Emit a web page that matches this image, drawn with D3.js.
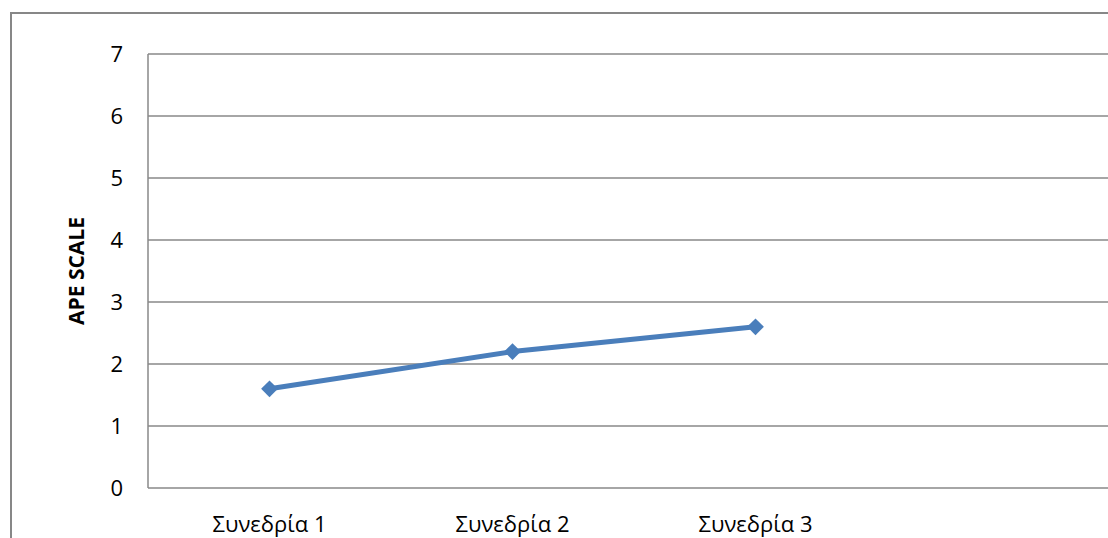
<!DOCTYPE html>
<html>
<head>
<meta charset="utf-8">
<script src="https://cdn.jsdelivr.net/npm/d3@7"></script>
<style>
  body { margin: 0; background: #fff; }
  text { font-family: "Open Sans", sans-serif; }
</style>
</head>
<body>
<svg id="chart"></svg>
<script>
// chart data
const sessions = ["Συνεδρία 1", "Συνεδρία 2", "Συνεδρία 3", ""];
const apeValues = [1.6, 2.2, 2.6];
const yTicks = [0, 1, 2, 3, 4, 5, 6, 7];

const W = 1108, H = 538;
const margin = {top: 54, left: 148, bottom: 50};
const plotW = 972, plotH = H - margin.top - margin.bottom;

const svg = d3.select("#chart")
    .attr("width", W)
    .attr("height", H);

// outer chart border (runs off the right/bottom edge)
svg.append("rect")
    .attr("x", 11).attr("y", 13)
    .attr("width", W + 20).attr("height", H + 20)
    .attr("fill", "none")
    .attr("stroke", "#878787")
    .attr("stroke-width", 2);

const g = svg.append("g")
    .attr("transform", `translate(${margin.left},${margin.top})`);

const x = d3.scaleBand()
    .domain(sessions)
    .range([0, plotW]);

const y = d3.scaleLinear()
    .domain([0, 7])
    .range([plotH, 0]);

// gridlines
g.selectAll(".grid")
    .data(yTicks)
    .enter().append("line")
    .attr("x1", 0).attr("x2", plotW)
    .attr("y1", d => y(d)).attr("y2", d => y(d))
    .attr("stroke", "#888")
    .attr("stroke-width", 1.5);

// left axis line
g.append("line")
    .attr("x1", 0).attr("x2", 0)
    .attr("y1", 0).attr("y2", plotH)
    .attr("stroke", "#888")
    .attr("stroke-width", 1.5);

// y axis labels
const yAxis = g.append("g")
    .call(d3.axisLeft(y).tickValues(yTicks).tickFormat(d3.format("d")).tickSize(0).tickPadding(25));
yAxis.select(".domain").remove();
yAxis.selectAll("text")
    .attr("font-size", "22px")
    .attr("font-family", "'Open Sans', sans-serif")
    .attr("fill", "#000");

// x axis labels
const xAxis = g.append("g")
    .attr("transform", `translate(0,${plotH})`)
    .call(d3.axisBottom(x).tickSize(0).tickPadding(28));
xAxis.select(".domain").remove();
xAxis.selectAll("text")
    .attr("font-size", "22px")
    .attr("font-family", "'Open Sans', sans-serif")
    .attr("fill", "#000");

// y axis title
svg.append("text")
    .attr("transform", `translate(84,${margin.top + plotH / 2}) rotate(-90)`)
    .attr("text-anchor", "middle")
    .attr("font-size", "21px")
    .attr("font-weight", "bold")
    .text("APE SCALE");

// the line
const points = apeValues.map((v, i) => ({cat: sessions[i], val: v}));
g.append("path")
    .datum(points)
    .attr("fill", "none")
    .attr("stroke", "#4a7ebb")
    .attr("stroke-width", 5)
    .attr("d", d3.line()
        .x(d => x(d.cat) + x.bandwidth() / 2)
        .y(d => y(d.val)));

// diamond markers
g.selectAll(".marker")
    .data(points)
    .enter().append("path")
    .attr("transform", d => `translate(${x(d.cat) + x.bandwidth() / 2},${y(d.val)})`)
    .attr("d", d3.symbol().type(d3.symbolDiamond2).size(180)())
    .attr("fill", "#4a7ebb");
</script>
</body>
</html>
